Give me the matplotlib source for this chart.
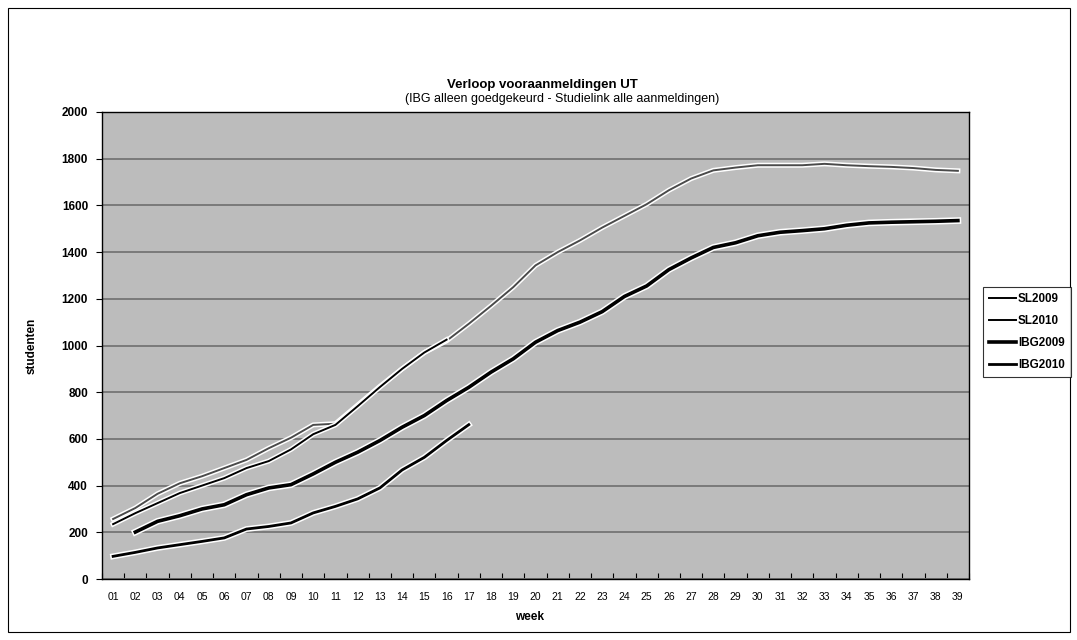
import matplotlib
matplotlib.use("Agg")
import matplotlib.pyplot as plt
import matplotlib.patheffects as pe
from matplotlib.patches import Rectangle

plt.rcParams['font.family'] = ['Liberation Sans', 'DejaVu Sans']

weeks = [f"{w:02d}" for w in range(1, 40)]

sl2009 = [257, 304, 365, 410, 440, 475, 510, 560, 605, 660, 665, 745, 825, 900, 970,
          1020, 1093, 1170, 1250, 1343, 1400, 1450, 1505, 1555, 1605, 1665, 1715, 1750,
          1762, 1772, 1772, 1772, 1778, 1772, 1768, 1765, 1760, 1752, 1748]
sl2010 = [235, 282, 325, 368, 400, 432, 475, 505, 555, 620, 660, 740, 822, 900, 970, 1025]
ibg2009 = [None, 201, 247, 271, 300, 318, 361, 390, 404, 450, 500, 543, 593, 650, 700,
           764, 821, 886, 943, 1014, 1064, 1100, 1145, 1210, 1255, 1325, 1375, 1420,
           1440, 1470, 1485, 1492, 1500, 1515, 1525, 1528, 1530, 1532, 1535]
ibg2010 = [97, 114, 133, 147, 161, 176, 214, 225, 240, 283, 311, 343, 390, 467, 521, 593, 661]

series = [
    ("SL2009", sl2009, "#4a4a4a", 1.4),
    ("SL2010", sl2010, "#000000", 1.4),
    ("IBG2009", ibg2009, "#000000", 2.6),
    ("IBG2010", ibg2010, "#000000", 2.0),
]

fig = plt.figure(figsize=(10.77, 6.4), dpi=100)
fig.patch.set_facecolor("white")

L, R, T, B = 102, 969, 112, 579
ax = fig.add_axes([L/1077, 1-B/640, (R-L)/1077, (B-T)/640])
ax.set_facecolor("#bcbcbc")

for name, vals, col, lw in series:
    xs = [i for i, v in enumerate(vals) if v is not None]
    ys = [v for v in vals if v is not None]
    ax.plot(xs, ys, color=col, lw=lw, label=name, zorder=3,
            path_effects=[pe.Stroke(linewidth=lw + 2.2, foreground="white"), pe.Normal()])

ax.set_xlim(-0.5, len(weeks) - 0.5)
ax.set_ylim(0, 2000)
ax.set_yticks(range(0, 2001, 200))
ax.set_xticks(range(len(weeks)))
ax.set_xticklabels(weeks, fontsize=7.5)
ax.set_xticks([i - 0.5 for i in range(len(weeks) + 1)], minor=True)
ax.tick_params(axis='x', which='major', length=0, pad=9)
ax.tick_params(axis='x', which='minor', length=4, direction='in', width=0.8)
ax.tick_params(axis='y', labelsize=8.5, length=4, width=0.8, direction='out', pad=6)
for lab in ax.get_yticklabels():
    lab.set_fontweight('bold')
ax.yaxis.grid(True, color="#7a7a7a", lw=1.4, zorder=1)
ax.set_axisbelow(True)
for s in ax.spines.values():
    s.set_color("black")
    s.set_linewidth(1.0)

ax.set_xlabel("week", fontsize=8.5, fontweight='bold')
ax.xaxis.set_label_coords((530 - L) / (R - L), -(611 - B) / (B - T))
ax.set_ylabel("studenten", fontsize=8.5, fontweight='bold')
ax.yaxis.set_label_coords(-(L - 38) / (R - L), 0.5)

fig.text(542/1077, 1-85/640, "Verloop vooraanmeldingen UT", ha='center', va='center',
         fontsize=9.5, fontweight='bold')
fig.text(562/1077, 1-99/640, "(IBG alleen goedgekeurd - Studielink alle aanmeldingen)",
         ha='center', va='center', fontsize=9)

leg = fig.legend(loc='center left', bbox_to_anchor=(983/1077, 1-332/640),
                 fontsize=8.4, frameon=True, fancybox=False, edgecolor='black',
                 handlelength=2.3, labelspacing=0.85, borderpad=0.5, handletextpad=0.2,
                 borderaxespad=0)
leg.get_frame().set_linewidth(0.8)
for t in leg.get_texts():
    t.set_fontweight('bold')
for h in leg.legend_handles:
    h.set_color('black')
    h.set_path_effects([])

fig.patches.append(Rectangle((8/1077, 1-632/640), (1070-8)/1077, (632-8)/640,
                             transform=fig.transFigure, fill=False,
                             edgecolor='black', lw=0.8))

fig.savefig("out.png", dpi=100, facecolor="white")
